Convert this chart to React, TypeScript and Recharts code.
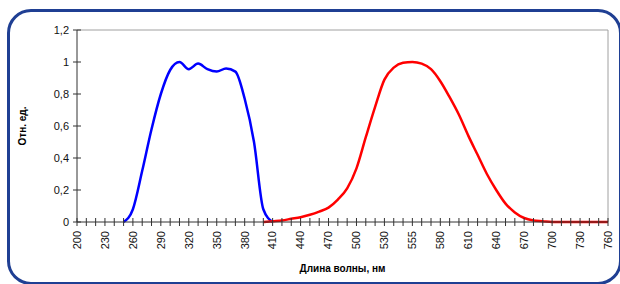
import { LineChart, Line, XAxis, YAxis, ReferenceLine } from 'recharts';

const wavelengths = [
  200, 210, 220, 230, 240, 250, 260, 270, 280, 290,
  300, 310, 320, 330, 340, 350, 360, 370, 380, 390,
  400, 410, 420, 430, 440, 450, 460, 470, 480, 490,
  500, 510, 520, 530, 540, 550, 555, 560, 570, 580,
  590, 600, 610, 620, 630, 640, 650, 660, 670, 680,
  690, 700, 710, 720, 730, 740, 750, 760,
];

const uvValues = [
  null, null, null, null, null, 0, 0.08, 0.32, 0.58, 0.8,
  0.95, 1.0, 0.955, 0.99, 0.955, 0.94, 0.96, 0.94, 0.77, 0.5,
  0.08, 0, null, null, null, null, null, null, null, null,
  null, null, null, null, null, null, null, null, null, null,
  null, null, null, null, null, null, null, null, null, null,
  null, null, null, null, null, null, null, null,
];

const visValues = [
  null, null, null, null, null, null, null, null, null, null,
  null, null, null, null, null, null, null, null, null, null,
  0, 0.005, 0.01, 0.02, 0.03, 0.045, 0.065, 0.09, 0.14, 0.21,
  0.335, 0.53, 0.72, 0.89, 0.965, 0.995, 1.0, 0.99, 0.955, 0.88,
  0.78, 0.67, 0.54, 0.42, 0.3, 0.2, 0.115, 0.06, 0.025, 0.01,
  0.005, 0, 0, 0, 0, 0, 0, 0,
];

const yTicks = [0, 0.2, 0.4, 0.6, 0.8, 1, 1.2];

const data = wavelengths.map((wl, i) => ({ wl, uv: uvValues[i], vis: visValues[i] }));

const font = '"Liberation Sans", Arial, sans-serif';

const XTick = (props: any) => {
  const { x, y, payload, index } = props;
  const ty = y + 9;
  return (
    <g>
      <line x1={x} x2={x} y1={y - 4} y2={y + 4} stroke="#333" strokeWidth={1} />
      {index % 3 === 0 && (
        <text
          x={x}
          y={ty}
          dy="0.35em"
          textAnchor="end"
          transform={`rotate(-90 ${x} ${ty})`}
          fontSize={11}
          fill="#111"
          fontFamily={font}
        >
          {payload.value}
        </text>
      )}
    </g>
  );
};

const YTick = (props: any) => {
  const { x, y, payload } = props;
  return (
    <g>
      <line x1={x - 4} x2={x + 4} y1={y} y2={y} stroke="#333" strokeWidth={1} />
      <text x={x - 8} y={y} dy="0.35em" textAnchor="end" fontSize={11} fill="#111" fontFamily={font}>
        {String(payload.value).replace('.', ',')}
      </text>
    </g>
  );
};

export default function App() {
  return (
    <div style={{ position: 'absolute', left: 0, top: 0, width: 620, height: 284, overflow: 'hidden', background: '#fff' }}>
      <div
        style={{
          position: 'absolute',
          left: 7,
          top: 9,
          width: 615,
          height: 276,
          boxSizing: 'border-box',
          border: '3px solid #1f3f93',
          borderRadius: 24,
        }}
      />
      <div style={{ position: 'absolute', left: 0, top: 0 }}>
        <LineChart width={620} height={284} data={data} margin={{ top: 30, right: 12, bottom: 0, left: 0 }}>
          <XAxis
            dataKey="wl"
            interval={0}
            tickSize={0}
            tickMargin={0}
            tick={<XTick />}
            height={62}
            axisLine={{ stroke: '#333' }}
            label={{
              value: 'Длина волны, нм',
              position: 'insideBottom',
              offset: 12,
              style: { fontSize: 10, fontWeight: 700, fill: '#000', fontFamily: font },
            }}
          />
          <YAxis
            domain={[0, 1.2]}
            ticks={yTicks}
            width={77}
            tickSize={0}
            tickMargin={0}
            tick={<YTick />}
            axisLine={{ stroke: '#333' }}
            label={{
              value: 'Отн. ед.',
              angle: -90,
              position: 'insideLeft',
              offset: 22,
              style: { fontSize: 10, fontWeight: 700, fill: '#000', fontFamily: font, textAnchor: 'middle' },
            }}
          />
          <ReferenceLine y={1.2} stroke="#a0a0a0" />
          <ReferenceLine x={760} stroke="#a0a0a0" />
          <Line type="monotone" dataKey="uv" stroke="#0000ff" strokeWidth={2.5} dot={false} isAnimationActive={false} />
          <Line type="monotone" dataKey="vis" stroke="#ff0000" strokeWidth={2.5} dot={false} isAnimationActive={false} />
        </LineChart>
      </div>
    </div>
  );
}
